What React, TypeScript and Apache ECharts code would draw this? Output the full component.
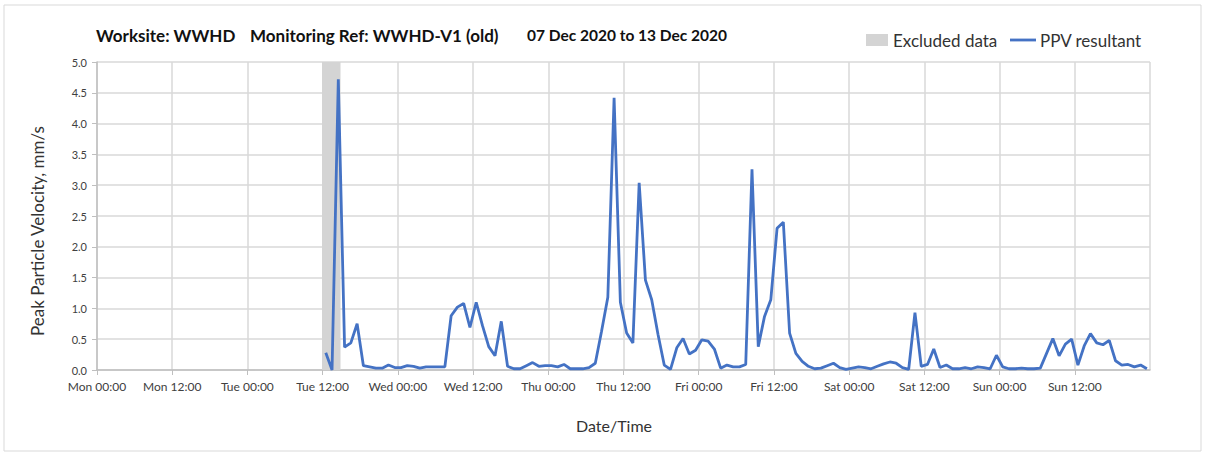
import React, { useEffect, useRef } from "react";
import * as echarts from "echarts";

// Hourly PPV readings starting Tue 12:30 (hour 36.5 from Mon 00:00)
const startHour = 36.5;
const ppvValues = [
  0.28, 0.0, 4.72, 0.37, 0.44, 0.75, 0.07, 0.05, 0.03, 0.03, 0.08, 0.04,
  0.04, 0.07, 0.06, 0.03, 0.05, 0.05, 0.05, 0.05, 0.88, 1.02, 1.08, 0.69,
  1.1, 0.72, 0.38, 0.23, 0.79, 0.06, 0.02, 0.02, 0.07, 0.12, 0.06, 0.07,
  0.07, 0.05, 0.09, 0.02, 0.02, 0.02, 0.04, 0.11, 0.63, 1.18, 4.42, 1.1,
  0.6, 0.44, 3.04, 1.46, 1.14, 0.58, 0.08, 0.01, 0.36, 0.51, 0.26, 0.32,
  0.49, 0.47, 0.34, 0.03, 0.08, 0.05, 0.05, 0.09, 3.26, 0.38, 0.87, 1.14,
  2.3, 2.4, 0.6, 0.27, 0.14, 0.06, 0.02, 0.03, 0.07, 0.11, 0.04, 0.01,
  0.03, 0.05, 0.04, 0.02, 0.06, 0.1, 0.13, 0.11, 0.04, 0.01, 0.93, 0.06,
  0.09, 0.34, 0.04, 0.08, 0.02, 0.02, 0.04, 0.02, 0.05, 0.04, 0.02, 0.24,
  0.05, 0.02, 0.02, 0.03, 0.02, 0.02, 0.03, 0.27, 0.51, 0.23, 0.42, 0.5,
  0.08, 0.39, 0.59, 0.44, 0.41, 0.48, 0.15, 0.08, 0.09, 0.05, 0.08, 0.02,
];
const excludedRange = [35.9, 38.85];
const xTickLabels = [
  "Mon 00:00", "Mon 12:00", "Tue 00:00", "Tue 12:00", "Wed 00:00", "Wed 12:00",
  "Thu 00:00", "Thu 12:00", "Fri 00:00", "Fri 12:00", "Sat 00:00", "Sat 12:00",
  "Sun 00:00", "Sun 12:00",
];
const titleParts = ["Worksite: WWHD", "Monitoring Ref: WWHD-V1 (old)", "07 Dec 2020 to 13 Dec 2020"];
const legendNames = ["Excluded data", "PPV resultant"];
const xAxisName = "Date/Time";
const yAxisName = "Peak Particle Velocity, mm/s";

const FONT = "Lato, 'Noto Sans', sans-serif";
const LINE = "#4472C4";
const GREY = "#d4d4d4";

export default function App() {
  const ref = useRef<HTMLDivElement>(null);
  useEffect(() => {
    if (!ref.current) return;
    const chart = echarts.init(ref.current, undefined, { renderer: "svg" });
    const data = ppvValues.map((v, i) => [startHour + i, v]);
    chart.setOption({
      animation: false,
      backgroundColor: "#ffffff",
      textStyle: { fontFamily: FONT },
      grid: { left: 97, right: 57, top: 62, bottom: 87 },
      xAxis: {
        type: "value",
        min: 0,
        max: 168,
        interval: 12,
        axisLine: { show: true, lineStyle: { color: "#bfbfbf", width: 1.5 } },
        axisTick: { show: true, length: 5, lineStyle: { color: "#bfbfbf" } },
        splitLine: { show: true, lineStyle: { color: "#d9d9d9", width: 1.5 } },
        axisLabel: {
          fontSize: 12,
          color: "#404040",
          margin: 10,
          showMaxLabel: false,
          formatter: (v: number) => xTickLabels[Math.round(v / 12)] ?? "",
        },
      },
      yAxis: {
        type: "value",
        min: 0,
        max: 5,
        interval: 0.5,
        axisLine: { show: true, lineStyle: { color: "#bfbfbf", width: 1.5 } },
        axisTick: { show: true, length: 5, lineStyle: { color: "#bfbfbf" } },
        splitLine: { show: true, lineStyle: { color: "#d9d9d9", width: 1.5 } },
        axisLabel: {
          fontSize: 11,
          color: "#404040",
          margin: 10,
          formatter: (v: number) => v.toFixed(1),
        },
      },
      series: [
        {
          name: legendNames[0],
          type: "line",
          data: [],
          z: 1,
          silent: true,
          markArea: {
            silent: true,
            itemStyle: { color: GREY },
            data: [[{ xAxis: excludedRange[0] }, { xAxis: excludedRange[1] }]],
          },
        },
        {
          name: legendNames[1],
          type: "line",
          data,
          z: 3,
          showSymbol: false,
          lineStyle: { color: LINE, width: 2.8 },
          itemStyle: { color: LINE },
        },
      ],
      graphic: [
        {
          type: "rect",
          shape: { x: 4, y: 5, width: 1197, height: 446 },
          style: { fill: "none", stroke: "#d9d9d9", lineWidth: 1 },
          silent: true,
        },
        {
          type: "text",
          x: 96,
          y: 35,
          style: { text: titleParts[0], font: `bold 17px ${FONT}`, fill: "#111", verticalAlign: "middle" },
        },
        {
          type: "text",
          x: 250,
          y: 35,
          style: { text: titleParts[1], font: `bold 17px ${FONT}`, fill: "#111", verticalAlign: "middle" },
        },
        {
          type: "text",
          x: 527,
          y: 35,
          style: { text: titleParts[2], font: `bold 15.5px ${FONT}`, fill: "#111", verticalAlign: "middle" },
        },
        {
          type: "rect",
          shape: { x: 866, y: 34, width: 22, height: 12 },
          style: { fill: GREY },
        },
        {
          type: "text",
          x: 893,
          y: 40,
          style: { text: legendNames[0], font: `17px ${FONT}`, fill: "#333", verticalAlign: "middle" },
        },
        {
          type: "line",
          shape: { x1: 1010, y1: 40, x2: 1036, y2: 40 },
          style: { stroke: LINE, lineWidth: 2.8 },
        },
        {
          type: "text",
          x: 1040,
          y: 40,
          style: { text: legendNames[1], font: `17px ${FONT}`, fill: "#333", verticalAlign: "middle" },
        },
        {
          type: "text",
          x: 614,
          y: 425,
          style: { text: xAxisName, font: `16px ${FONT}`, fill: "#333", align: "center", verticalAlign: "middle" },
        },
        {
          type: "text",
          x: 37,
          y: 231,
          rotation: Math.PI / 2,
          style: { text: yAxisName, font: `17px ${FONT}`, fill: "#333", align: "center", verticalAlign: "middle" },
        },
      ],
    });
    return () => chart.dispose();
  }, []);
  return (
    <div
      ref={ref}
      style={{ position: "absolute", left: 0, top: 0, width: 1207, height: 457, background: "#fff" }}
    />
  );
}
